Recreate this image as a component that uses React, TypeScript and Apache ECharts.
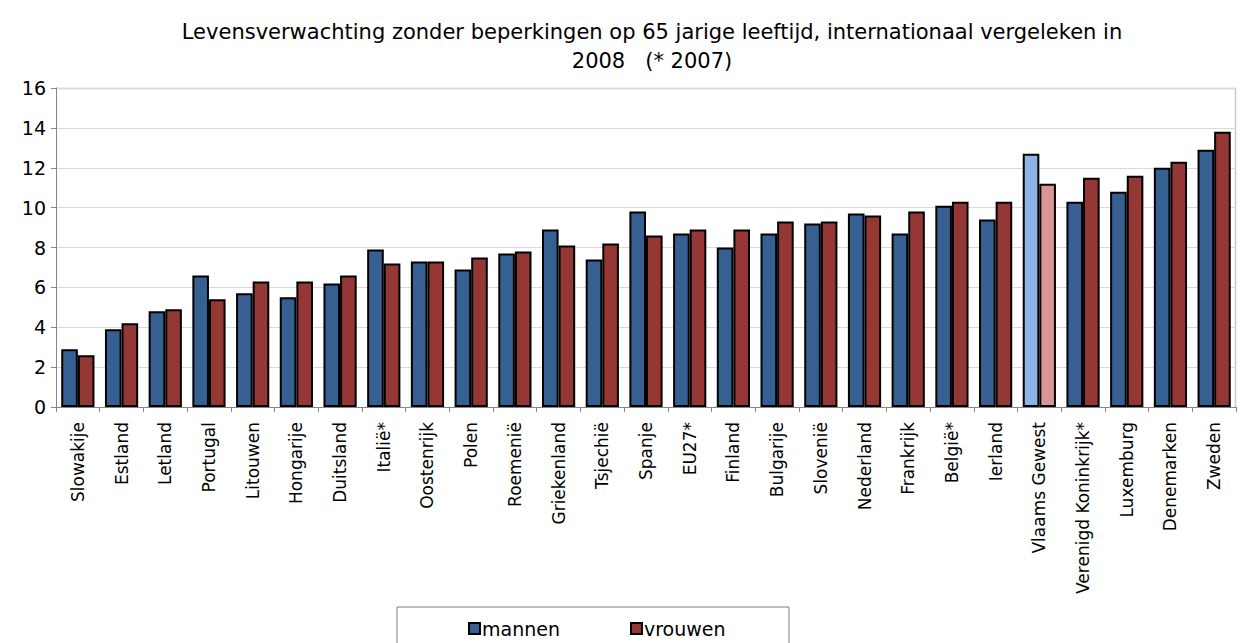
import React, { useEffect, useRef } from "react";
import * as echarts from "echarts";

const categories = [
  "Slowakije", "Estland", "Letland", "Portugal", "Litouwen", "Hongarije", "Duitsland",
  "Italië*", "Oostenrijk", "Polen", "Roemenië", "Griekenland", "Tsjechië", "Spanje",
  "EU27*", "Finland", "Bulgarije", "Slovenië", "Nederland", "Frankrijk", "België*",
  "Ierland", "Vlaams Gewest", "Verenigd Koninkrijk*", "Luxemburg", "Denemarken", "Zweden",
];
const mannen = [2.9, 3.9, 4.8, 6.6, 5.7, 5.5, 6.2, 7.9, 7.3, 6.9, 7.7, 8.9, 7.4, 9.8, 8.7, 8.0, 8.7, 9.2, 9.7, 8.7, 10.1, 9.4, 12.7, 10.3, 10.8, 12.0, 12.9];
const vrouwen = [2.6, 4.2, 4.9, 5.4, 6.3, 6.3, 6.6, 7.2, 7.3, 7.5, 7.8, 8.1, 8.2, 8.6, 8.9, 8.9, 9.3, 9.3, 9.6, 9.8, 10.3, 10.3, 11.2, 11.5, 11.6, 12.3, 13.8];
const highlight = "Vlaams Gewest";
const titleText = "Levensverwachting zonder beperkingen op 65 jarige leeftijd, internationaal vergeleken in\n2008   (* 2007)";

const FONT = "DejaVu Sans";

export default function App() {
  const ref = useRef<HTMLDivElement>(null);
  useEffect(() => {
    if (!ref.current) return;
    const chart = echarts.init(ref.current, null, { renderer: "svg" });
    const mk = (vals: number[], light: string) =>
      vals.map((v, i) =>
        categories[i] === highlight
          ? { value: v, itemStyle: { color: light } }
          : v
      );
    chart.setOption({
      animation: false,
      backgroundColor: "#ffffff",
      textStyle: { fontFamily: FONT },
      title: {
        text: titleText,
        left: 647,
        top: 12,
        textAlign: "center",
        textStyle: { fontFamily: FONT, fontSize: 21, fontWeight: "normal", color: "#000", lineHeight: 29 },
      },
      legend: {
        left: 463,
        top: 614,
        itemGap: 70,
        itemWidth: 11,
        itemHeight: 11,
        icon: "rect",
        textStyle: { fontFamily: FONT, fontSize: 19, color: "#000", padding: [0, 0, 0, -3] },
        data: ["mannen", "vrouwen"],
        z: 5,
      },
      grid: { left: 56, right: 7, top: 88, bottom: 236, containLabel: false },
      xAxis: {
        type: "category",
        data: categories,
        axisLine: { lineStyle: { color: "#868686", width: 1 } },
        axisTick: { show: true, alignWithLabel: false, length: 5, lineStyle: { color: "#868686" } },
        axisLabel: { rotate: 90, interval: 0, fontFamily: FONT, fontSize: 17, color: "#000", margin: 15 },
        splitLine: { show: false },
      },
      yAxis: {
        type: "value",
        min: 0,
        max: 16,
        interval: 2,
        axisLine: { show: true, lineStyle: { color: "#868686", width: 1 } },
        axisTick: { show: true, length: 5, lineStyle: { color: "#868686" } },
        axisLabel: { fontFamily: FONT, fontSize: 19, color: "#000", margin: 10 },
        splitLine: { show: true, lineStyle: { color: "#d9d9d9", width: 1 } },
      },
      series: [
        {
          name: "mannen",
          type: "bar",
          data: mk(mannen, "#8db4e3"),
          itemStyle: { color: "#376092", borderColor: "#000", borderWidth: 2 },
          barGap: "0%",
          barCategoryGap: "24%",
        },
        {
          name: "vrouwen",
          type: "bar",
          data: mk(vrouwen, "#d99694"),
          itemStyle: { color: "#953735", borderColor: "#000", borderWidth: 2 },
        },
      ],
      graphic: [
        {
          type: "rect",
          shape: { x: 397, y: 607, width: 392, height: 40 },
          style: { fill: "#fff", stroke: "#7f7f7f", lineWidth: 1 },
          z: 0,
        },
        {
          type: "polyline",
          shape: { points: [[56, 88.5], [1235.5, 88.5], [1235.5, 407]] },
          style: { stroke: "#c8c8c8", lineWidth: 1.5, fill: "none" },
          z: -1,
        },
      ],
    });
    return () => chart.dispose();
  }, []);
  return <div ref={ref} style={{ width: 1243, height: 643, position: "absolute", left: 0, top: 0 }} />;
}
